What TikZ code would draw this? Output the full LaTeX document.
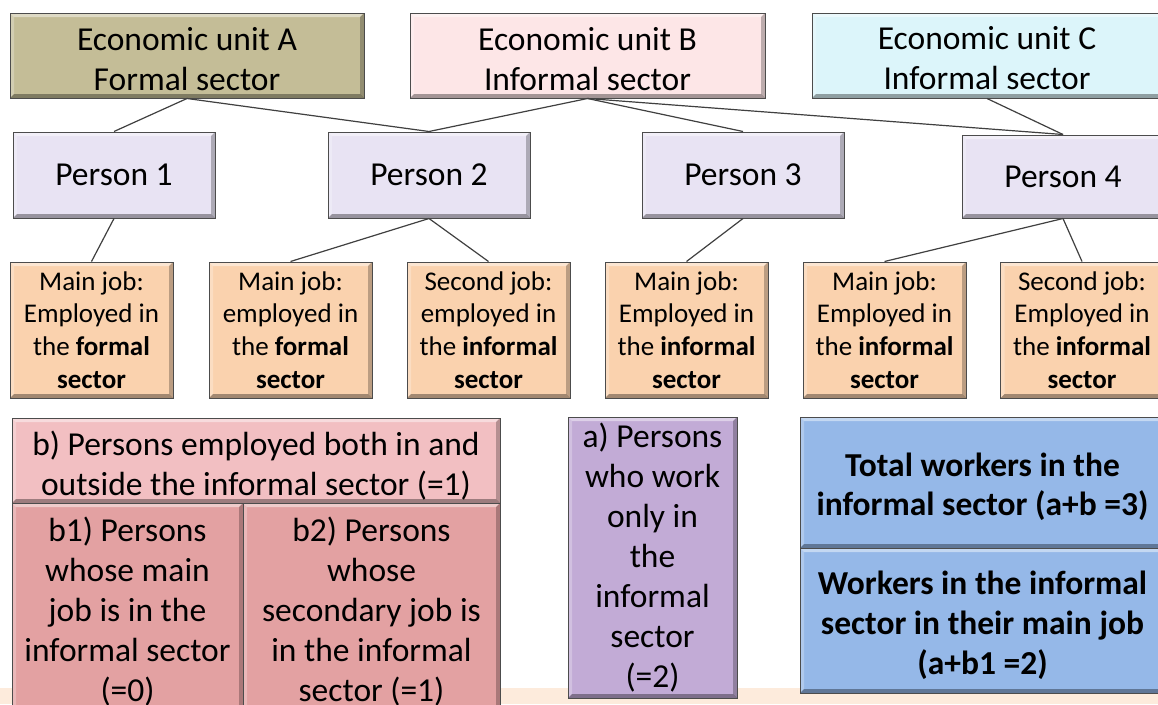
\documentclass[tikz,border=0pt]{standalone}
\usepackage{fontspec}
\setmainfont{Carlito}
\definecolor{uAcol}{HTML}{C4BD97}
\definecolor{uBcol}{HTML}{FDE6E7}
\definecolor{uCcol}{HTML}{DCF5FA}
\definecolor{percol}{HTML}{E8E3F3}
\definecolor{jobcol}{HTML}{FAD2AE}
\definecolor{bcol}{HTML}{F2BFC2}
\definecolor{bsubcol}{HTML}{E3A1A2}
\definecolor{acol}{HTML}{C2ABD6}
\definecolor{totcol}{HTML}{95B8E8}
\definecolor{bandcol}{HTML}{FDEBDC}
\tikzset{
  bevel/.style={path picture={
    \fill[white,opacity=0.45] (path picture bounding box.north west) -- (path picture bounding box.north east) -- ([xshift=-4pt,yshift=-4pt]path picture bounding box.north east) -- ([xshift=4pt,yshift=-4pt]path picture bounding box.north west) -- cycle;
    \fill[white,opacity=0.25] (path picture bounding box.north west) -- (path picture bounding box.south west) -- ([xshift=4pt,yshift=4pt]path picture bounding box.south west) -- ([xshift=4pt,yshift=-4pt]path picture bounding box.north west) -- cycle;
    \fill[black,opacity=0.35] (path picture bounding box.south west) -- (path picture bounding box.south east) -- ([xshift=-4pt,yshift=4pt]path picture bounding box.south east) -- ([xshift=4pt,yshift=4pt]path picture bounding box.south west) -- cycle;
    \fill[black,opacity=0.25] (path picture bounding box.north east) -- (path picture bounding box.south east) -- ([xshift=-4pt,yshift=4pt]path picture bounding box.south east) -- ([xshift=-4pt,yshift=-4pt]path picture bounding box.north east) -- cycle;
  }},
  box/.style={draw=black!70, line width=1pt, inner sep=0pt, align=center, bevel},
  big/.style={font=\fontsize{33.5}{40}\selectfont},
  txt/.style={inner sep=0pt, align=center},
  unit/.style={box, minimum height=85pt},
  person/.style={box, big, fill=percol, minimum width=202pt, minimum height=86pt},
  job/.style={box, fill=jobcol, minimum width=163pt, minimum height=136pt, font=\fontsize{27}{32.7}\selectfont},
  link/.style={draw=black!75, line width=1.2pt},
}
\begin{document}
\begin{tikzpicture}[x=1pt,y=-1pt]
\useasboundingbox (0,0) rectangle (1158,704);
\clip (0,0) rectangle (1158,704);
\fill[white] (0,0) rectangle (1158,704);
\fill[bandcol] (0,688) rectangle (1158,704);
% economic units
\node[unit, fill=uAcol, minimum width=354pt] (uA) at (187,55.5) {};
\node[unit, fill=uBcol, minimum width=355pt] (uB) at (587.5,55.5) {};
\node[unit, fill=uCcol, minimum width=350pt] (uC) at (987,55.5) {};
\node[txt, big] (uAt) at ([yshift=-4pt]uA.center) {Economic unit A\\Formal sector};
\node[txt, big] (uBt) at ([yshift=-4pt]uB.center) {Economic unit B\\Informal sector};
\node[txt, big] (uCt) at ([yshift=-3pt]uC.center) {Economic unit C\\Informal sector};
% persons
\node[person] (p1) at (114,175) {Person 1};
\node[person] (p2) at (429,175) {Person 2};
\node[person] (p3) at (743,175) {Person 3};
\node[person, minimum height=83pt] (p4) at (1063,176.5) {Person 4};
% jobs
\node[job] (j1) at (91.5,330) {Main job:\\Employed in\\the \textbf{formal}\\\textbf{sector}};
\node[job] (j2) at (290.5,330) {Main job:\\employed in\\the \textbf{formal}\\\textbf{sector}};
\node[job] (j3) at (488.5,330) {Second job:\\employed in\\the \textbf{informal}\\\textbf{sector}};
\node[job] (j4) at (686.5,330) {Main job:\\Employed in\\the \textbf{informal}\\\textbf{sector}};
\node[job] (j5) at (884.5,330) {Main job:\\Employed in\\the \textbf{informal}\\\textbf{sector}};
\node[job] (j6) at (1082,330) {Second job:\\Employed in\\the \textbf{informal}\\\textbf{sector}};
% connectors
\draw[link] (uA.south) -- (p1.north);
\draw[link] (uA.south) -- (p2.north);
\draw[link] (uB.south) -- (p2.north);
\draw[link] (uB.south) -- (p3.north);
\draw[link] (uB.south) -- (p4.north);
\draw[link] (uC.south) -- (p4.north);
\draw[link] (p1.south) -- (j1.north);
\draw[link] (p2.south) -- (j2.north);
\draw[link] (p2.south) -- (j3.north);
\draw[link] (p3.south) -- (j4.north);
\draw[link] (p4.south) -- (j5.north);
\draw[link] (p4.south) -- (j6.north);
% bottom
\node[box, fill=bcol, minimum width=488pt, minimum height=85pt] (b) at (256,460.5) {};
\node[txt, big] (bt) at ([yshift=-5pt]b.center) {b) Persons employed both in and\\outside the informal sector (=1)};
\node[box, big, fill=bsubcol, minimum width=231pt, minimum height=217pt] (b1) at (127.5,611.5) {b1) Persons\\whose main\\job is in the\\informal sector\\(=0)};
\node[box, big, fill=bsubcol, minimum width=257pt, minimum height=217pt] (b2) at (371.5,611.5) {b2) Persons\\whose\\secondary job is\\in the informal\\sector (=1)};
\node[box, big, fill=acol, minimum width=169pt, minimum height=281pt] (a) at (652.5,557.5) {a) Persons\\who work\\only in\\the\\informal\\sector\\(=2)};
\node[box, fill=totcol, minimum width=365pt, minimum height=131pt] (tot) at (982.5,482.5) {};
\node[txt, font=\fontsize{33.5}{39}\selectfont\bfseries] (tott) at ([yshift=-4pt]tot.center) {Total workers in the\\informal sector (a+b =3)};
\node[box, fill=totcol, minimum width=365pt, minimum height=145pt] (wrk) at (982.5,620.5) {};
\node[txt, font=\fontsize{33.5}{40}\selectfont\bfseries] (wrkt) at ([yshift=-5pt]wrk.center) {Workers in the informal\\sector in their main job\\(a+b1 =2)};
\end{tikzpicture}
\end{document}
